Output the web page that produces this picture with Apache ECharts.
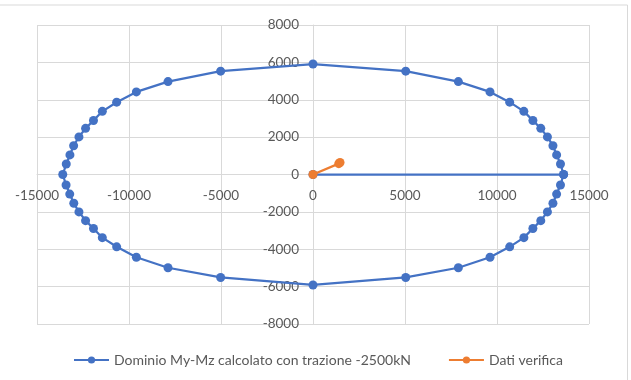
<!DOCTYPE html>
<html>
<head>
<meta charset="utf-8">
<script src="https://cdn.jsdelivr.net/npm/echarts@6/dist/echarts.min.js"></script>
<style>
  html, body { margin: 0; padding: 0; background: #fff; }
  #chart { width: 631px; height: 380px; }
</style>
</head>
<body>
<div id="chart"></div>
<script>
// Dominio My-Mz (x = My, y = Mz)
const dominioX = [0, 13620, 13450, 13240, 13040, 12740, 12380, 11950, 11460, 10690, 9620, 7900, 5040, 0,
  -5020, -7880, -9600, -10670, -11450, -11930, -12360, -12720, -13010, -13210, -13410, -13600,
  -13420, -13220, -13000, -12720, -12360, -11930, -11450, -10670, -9600, -7880, -5020, 0,
  5040, 7900, 9620, 10690, 11460, 11950, 12380, 12740, 13040, 13240, 13450, 13620]
const dominioY = [0, 0, 560, 1050, 1540, 2010, 2470, 2890, 3380, 3870, 4420, 4970, 5530, 5910,
  5530, 4970, 4420, 3870, 3380, 2890, 2470, 2010, 1540, 1050, 560, 0,
  -560, -1050, -1540, -2000, -2470, -2890, -3380, -3870, -4430, -4990, -5510, -5910,
  -5510, -4990, -4430, -3870, -3380, -2890, -2470, -2000, -1540, -1050, -560, 0]

const verificaX = [0, 1400, 1470]
const verificaY = [0, 580, 640]

const xTicks = { min: -15000, max: 15000, step: 5000 }
const yTicks = { min: -8000, max: 8000, step: 2000 }

const seriesNames = ['Dominio My-Mz calcolato con trazione -2500kN', 'Dati verifica']

const zip = (xs, ys) => xs.map((x, i) => [x, ys[i]])

const chart = echarts.init(document.getElementById('chart'), null, { renderer: 'canvas' })

const gridColor = '#d9d9d9'
const textColor = '#595959'
const font = 'Lato'
const fontSize = 13.5

// grid box: left 37, top 25, width 552, height 299 -> zero lines sit in the middle
chart.setOption({
    animation: false,
    color: ['#4472C4', '#ED7D31'],
    textStyle: { fontFamily: font },
    graphic: [{
        type: 'rect',
        shape: { x: -1, y: 5, width: 628.5, height: 380 },
        style: { fill: 'none', stroke: gridColor, lineWidth: 1 },
        silent: true
    }],
    grid: { left: 37, right: 42, top: 25, bottom: 56, containLabel: false, outerBoundsMode: 'none' },
    legend: {
        left: 68,
        top: 348,
        itemWidth: 35,
        itemHeight: 9,
        itemGap: 37,
        textStyle: { color: textColor, fontSize: 14, fontFamily: font },
        data: seriesNames
    },
    xAxis: {
        type: 'value',
        min: xTicks.min,
        max: xTicks.max,
        interval: xTicks.step,
        position: 'bottom',
        offset: -149.5,
        axisLine: { onZero: false, lineStyle: { color: gridColor, width: 1 } },
        axisTick: { show: false },
        axisLabel: { color: textColor, fontSize: fontSize, margin: 14, formatter: v => String(v) },
        splitLine: { lineStyle: { color: gridColor, width: 1 } }
    },
    yAxis: {
        type: 'value',
        min: yTicks.min,
        max: yTicks.max,
        interval: yTicks.step,
        position: 'left',
        offset: -276,
        axisLine: { onZero: false, lineStyle: { color: gridColor, width: 1 } },
        axisTick: { show: false },
        axisLabel: { color: textColor, fontSize: fontSize, margin: 14, formatter: v => String(v) },
        splitLine: { lineStyle: { color: gridColor, width: 1 } }
    },
    series: [
        {
            name: seriesNames[0],
            type: 'line',
            data: zip(dominioX, dominioY),
            symbol: 'circle',
            symbolSize: 9,
            lineStyle: { width: 2.25 },
            z: 2
        },
        {
            name: seriesNames[1],
            type: 'line',
            data: zip(verificaX, verificaY),
            symbol: 'circle',
            symbolSize: 9,
            lineStyle: { width: 2.25 },
            z: 3
        }
    ]
})
</script>
</body>
</html>
